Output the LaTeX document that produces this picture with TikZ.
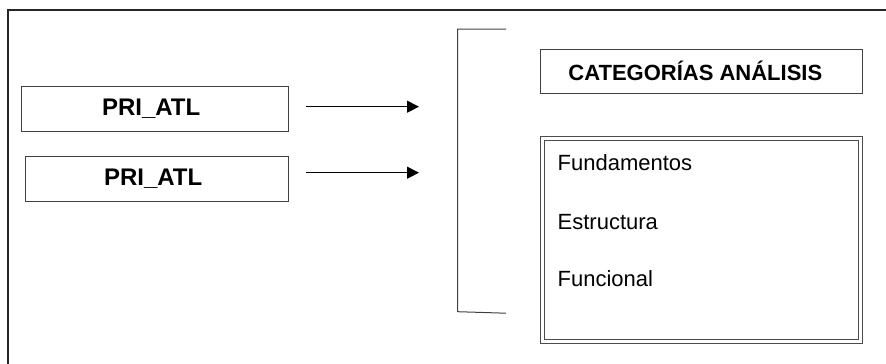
\documentclass[tikz,border=0pt]{standalone}
\usepackage{fontspec}
\setmainfont{Liberation Sans}
\usetikzlibrary{arrows.meta}
\begin{document}
\begin{tikzpicture}[x=1pt,y=-1pt,
  frame/.style={draw=black!85,line width=1.4pt},
  srcbox/.style={draw=black!75,line width=1pt,rectangle,inner sep=0pt,
    font=\fontsize{24}{28}\selectfont\bfseries},
  catbox/.style={draw=black!75,line width=1pt,rectangle,inner sep=0pt,
    font=\fontsize{22}{26}\selectfont\bfseries},
  listbox/.style={draw=black!70,line width=1pt,rectangle,inner sep=0pt},
  item/.style={anchor=west,inner sep=0pt,font=\fontsize{22}{26}\selectfont},
  flow/.style={draw=black,line width=1pt,-{Triangle[length=12pt,width=12pt]}},
  brace/.style={draw=black!75,line width=1pt}]
\useasboundingbox (0,0) rectangle (886,364);

% open outer frame
\draw[frame] (8,364) -- (8,10) -- (886,10);

% source boxes
\node[srcbox,minimum width=267pt,minimum height=45pt] (pri1) at (155.2,109.2) {PRI\_ATL\hspace*{8pt}};
\node[srcbox,minimum width=263pt,minimum height=45pt] (pri2) at (157.2,179.2) {PRI\_ATL\hspace*{8pt}};

% arrows towards the bracket
\coordinate (a1s) at (306,106.7);
\coordinate (a1e) at (419,106.7);
\coordinate (a2s) at (306,172.7);
\coordinate (a2e) at (419,172.7);
\draw[flow] (a1s) -- (a1e);
\draw[flow] (a2s) -- (a2e);

% bracket
\coordinate (bt) at (506,29);
\coordinate (btl) at (457.7,29);
\coordinate (bbl) at (457.7,311.7);
\coordinate (bb) at (506,313.2);
\draw[brace] (bt) -- (btl) -- (bbl) -- (bb);

% categories
\node[catbox,minimum width=322.7pt,minimum height=44.3pt] (cat) at (701.35,71.15) {CATEGORÍAS ANÁLISIS\hspace*{12pt}};

% double-ruled list box
\node[listbox,minimum width=322.7pt,minimum height=206.6pt] (list) at (701.35,240) {};
\node[listbox,minimum width=314.4pt,minimum height=198.3pt] (listin) at (701.5,239.9) {};
\node[item] (f1) at (557.5,163) {Fundamentos};
\node[item] (f2) at (557.5,221.7) {Estructura};
\node[item] (f3) at (557.5,278.3) {Funcional};
\end{tikzpicture}
\end{document}
